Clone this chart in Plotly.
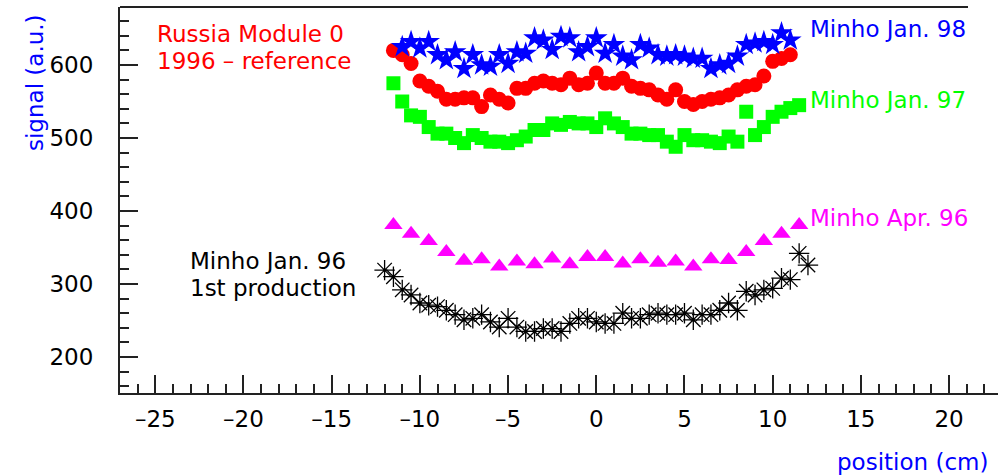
import plotly.graph_objects as go

# ---- data ----
blue_x = [-11, -10.5, -10, -9.5, -9, -8.5, -8, -7.5, -7, -6.5, -6, -5.5, -5, -4.5, -4, -3.5, -3, -2.5, -2, -1.5,
          -1, -0.5, 0, 0.5, 1, 1.5, 2, 2.5, 3, 3.5, 4, 4.5, 5, 5.5, 6, 6.5, 7, 7.5, 8, 8.5, 9, 9.5, 10, 10.5, 11]
blue_y = [625, 632, 623, 632, 614, 607, 618, 595, 614, 600, 598, 614, 602, 618, 616, 637, 634, 621, 639, 637,
          618, 625, 637, 616, 628, 612, 607, 628, 623, 614, 612, 614, 612, 609, 609, 595, 600, 602, 612, 628,
          630, 632, 628, 644, 634]

red_x = [-11.5, -11, -10.5, -10, -9.5, -9, -8.5, -8, -7.5, -7, -6.5, -6, -5.5, -5, -4.5, -4, -3.5, -3, -2.5, -2,
         -1.5, -1, -0.5, 0, 0.5, 1, 1.5, 2, 2.5, 3, 3.5, 4, 4.5, 5, 5.5, 6, 6.5, 7, 7.5, 8, 8.5, 9, 9.5, 10,
         10.5, 11]
red_y = [620, 614, 602, 578, 571, 564, 553, 553, 555, 555, 543, 559, 553, 548, 568, 568, 575, 578, 575, 573,
         582, 573, 575, 589, 575, 575, 582, 571, 568, 566, 559, 553, 566, 550, 546, 550, 553, 555, 559, 566,
         571, 573, 585, 605, 609, 614]

green_x = [-11.5, -11, -10.5, -10, -9.5, -9, -8.5, -8, -7.5, -7, -6.5, -6, -5.5, -5, -4.5, -4, -3.5, -3, -2.5,
           -2, -1.5, -1, -0.5, 0, 0.5, 1, 1.5, 2, 2.5, 3, 3.5, 4, 4.5, 5, 5.5, 6, 6.5, 7, 7.5, 8, 8.5, 9, 9.5,
           10, 10.5, 11, 11.5]
green_y = [575, 550, 531, 529, 515, 506, 506, 500, 493, 504, 500, 495, 495, 493, 497, 502, 511, 511, 520,
           518, 522, 520, 520, 515, 527, 520, 515, 506, 506, 504, 504, 495, 488, 504, 497, 497, 495, 493, 502,
           495, 536, 504, 515, 529, 536, 541, 545]

mag_x = [-11.5, -10.5, -9.5, -8.5, -7.5, -6.5, -5.5, -4.5, -3.5, -2.5, -1.5, -0.5, 0.5, 1.5, 2.5, 3.5, 4.5,
         5.5, 6.5, 7.5, 8.5, 9.5, 10.5, 11.5]
mag_y = [381, 369, 359, 344, 332, 334, 324, 331, 327, 335, 327, 337, 337, 328, 334, 329, 331, 324, 334, 333,
         344, 359, 369, 381]

black_x = [-12, -11.5, -11, -10.5, -10, -9.5, -9, -8.5, -8, -7.5, -7, -6.5, -6, -5.5, -5, -4.5, -4, -3.5, -3,
           -2.5, -2, -1.5, -1, -0.5, 0, 0.5, 1, 1.5, 2, 2.5, 3, 3.5, 4, 4.5, 5, 5.5, 6, 6.5, 7, 7.5, 8, 8.5, 9,
           9.5, 10, 10.5, 11, 11.5, 12]
black_y = [319, 310, 292, 285, 274, 271, 269, 264, 258, 251, 253, 258, 248, 241, 253, 241, 235, 235, 239,
           239, 235, 246, 253, 253, 248, 246, 246, 260, 253, 253, 258, 260, 258, 258, 260, 251, 258, 258, 264,
           274, 264, 290, 285, 292, 294, 308, 306, 342, 326]

x_tick_vals = [-25, -20, -15, -10, -5, 0, 5, 10, 15, 20]
x_tick_text = ["\u201325", "\u201320", "\u201315", "\u201310", "\u20135", "0", "5", "10", "15", "20"]
y_tick_vals = [200, 300, 400, 500, 600]

FONT = "DejaVu Sans"
FS = 23

fig = go.Figure()
fig.add_trace(go.Scatter(x=black_x, y=black_y, mode="markers",
                         marker=dict(symbol="asterisk-open", size=17, color="black",
                                     line=dict(color="black", width=1.3))))
fig.add_trace(go.Scatter(x=mag_x, y=mag_y, mode="markers",
                         marker=dict(symbol="triangle-up", size=16, color="#ff00ff")))
fig.add_trace(go.Scatter(x=green_x, y=green_y, mode="markers",
                         marker=dict(symbol="square", size=14, color="#00ff00")))
fig.add_trace(go.Scatter(x=red_x, y=red_y, mode="markers",
                         marker=dict(symbol="circle", size=15, color="#ff0000")))
fig.add_trace(go.Scatter(x=blue_x, y=blue_y, mode="markers",
                         marker=dict(symbol="star", size=17, color="#0000ff")))

def label(text, x, y, color):
    fig.add_annotation(x=x, y=y, xref="x", yref="y", text=text, showarrow=False,
                       xanchor="left", yanchor="middle", borderpad=0,
                       font=dict(family=FONT, size=FS, color=color))

label("Russia Module 0", -24.95, 642, "#ff0000")
label("1996 \u2013 reference", -24.95, 605, "#ff0000")
label("Minho Jan. 98", 12.05, 650, "#0000ff")
label("Minho Jan. 97", 12.05, 552, "#00ff00")
label("Minho Apr. 96", 12.05, 390, "#ff00ff")
label("Minho Jan. 96", -23.1, 332, "black")
label("1st production", -23.1, 295, "black")

W, H = 998, 476
L, R, T, B = 120, 0, 7, 83
pw, ph = W - L - R, H - T - B

def px_to_paper_x(px):
    return (px - L) / pw

def px_to_paper_y(py):
    return (H - B - py) / ph

fig.add_annotation(x=px_to_paper_x(35), y=px_to_paper_y(83), xref="paper", yref="paper",
                   text="signal (a.u.)", showarrow=False, textangle=-90,
                   xanchor="center", yanchor="middle",
                   font=dict(family=FONT, size=FS, color="#0000ff"))
fig.add_annotation(x=px_to_paper_x(990), y=px_to_paper_y(462), xref="paper", yref="paper",
                   text="position (cm)", showarrow=False, xanchor="right", yanchor="middle",
                   font=dict(family=FONT, size=FS, color="#0000ff"))

fig.add_shape(type="line", xref="paper", yref="paper", x0=0, x1=px_to_paper_x(968), y0=1, y1=1,
              line=dict(color="#222222", width=2))

fig.update_layout(
    width=W, height=H, margin=dict(l=L, r=R, t=T, b=B, pad=0),
    paper_bgcolor="white", plot_bgcolor="white", showlegend=False,
    font=dict(family=FONT, size=FS, color="black"),
)
fig.update_xaxes(range=[-27, -27 + pw / 17.64], showgrid=False, zeroline=False,
                 showline=True, linecolor="#222222", linewidth=2,
                 ticks="inside", ticklen=18, tickwidth=1.5, tickcolor="#222222",
                 tickvals=x_tick_vals, ticktext=x_tick_text, ticklabelstandoff=4,
                 minor=dict(ticks="inside", ticklen=9, dtick=1, tick0=0, tickwidth=1.5, tickcolor="#222222"))
fig.update_yaxes(range=[150.7, 150.7 + ph / 0.73], showgrid=False, zeroline=False,
                 showline=True, linecolor="#222222", linewidth=2,
                 ticks="inside", ticklen=18, tickwidth=1.5, tickcolor="#222222",
                 tickvals=y_tick_vals, ticklabelstandoff=20,
                 minor=dict(ticks="inside", ticklen=9, dtick=20, tick0=0, tickwidth=1.5, tickcolor="#222222"))

fig.write_html("out.html")
